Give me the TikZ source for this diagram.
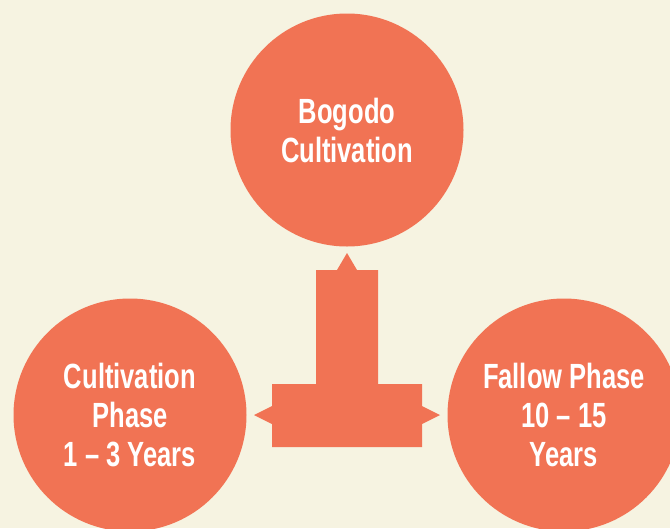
\documentclass[tikz,border=0pt]{standalone}
\usepackage{fontspec}
\setmainfont{Liberation Sans}[FakeStretch=0.73]
\definecolor{cream}{HTML}{F6F3E1}
\definecolor{coral}{HTML}{F17354}
\tikzset{
  phase/.style={circle,fill=coral,minimum size=233pt,inner sep=0pt,text=white,
    align=center,font=\fontsize{35}{39}\selectfont\bfseries},
  arrowfill/.style={fill=coral}
}
\begin{document}
\begin{tikzpicture}[x=1pt,y=-1pt]
    \path[use as bounding box,clip] (0,0) rectangle (670,528);
    \fill[cream] (0,0) rectangle (670,528);
    \node[phase](bogodo) at (347,130) {Bogodo\\Cultivation};
    \node[phase](cultiv) at (130,415) {Cultivation\\Phase\\1 -- 3 Years};
    \node[phase](fallow) at (564,415) {Fallow Phase\\10 -- 15\\Years};
    \coordinate (hub) at (bogodo |- cultiv);
    \fill[arrowfill] (hub) ++(0,-162) -- ++(10,17) -- ++(21,0) -- ++(0,114)
      -- ++(44,0) -- ++(0,22) -- ++(18,9) -- ++(-18,9) -- ++(0,23)
      -- ++(-150,0) -- ++(0,-23) -- ++(-18,-9) -- ++(18,-9) -- ++(0,-22)
      -- ++(44,0) -- ++(0,-114) -- ++(21,0) -- cycle;
\end{tikzpicture}
\end{document}
